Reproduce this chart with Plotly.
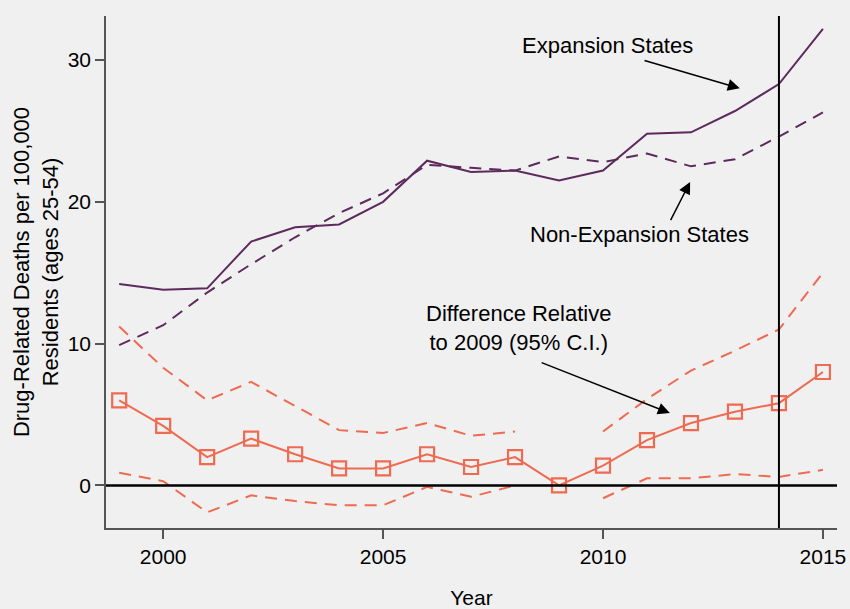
import plotly.graph_objects as go

years = list(range(1999, 2016))
expansion = [14.2, 13.8, 13.9, 17.2, 18.2, 18.4, 20.0, 22.9, 22.1, 22.2, 21.5, 22.2, 24.8, 24.9, 26.4, 28.3, 32.2]
non_expansion = [9.9, 11.3, 13.6, 15.6, 17.5, 19.2, 20.6, 22.6, 22.4, 22.2, 23.2, 22.8, 23.4, 22.5, 23.0, 24.6, 26.3]
difference = [6.0, 4.2, 2.0, 3.3, 2.2, 1.2, 1.2, 2.2, 1.3, 2.0, 0.0, 1.4, 3.2, 4.4, 5.2, 5.8, 8.0]
ci_upper = [11.2, 8.3, 6.0, 7.3, 5.6, 3.9, 3.7, 4.4, 3.5, 3.8, None, 3.8, 6.1, 8.1, 9.5, 11.0, 15.0]
ci_lower = [0.9, 0.3, -1.9, -0.7, -1.1, -1.4, -1.4, -0.1, -0.8, 0.0, None, -0.9, 0.5, 0.5, 0.8, 0.6, 1.1]
x_ticks = [2000, 2005, 2010, 2015]
y_ticks = [0, 10, 20, 30]
policy_year = 2014

PURPLE = "#5c2a5c"
ORANGE = "#ee6a50"
BG = "#f0f0f0"
FONT = "Liberation Sans, Arial, Helvetica, sans-serif"

fig = go.Figure()
fig.add_trace(go.Scatter(x=years, y=ci_upper, mode="lines", connectgaps=False,
                         line=dict(color=ORANGE, width=2, dash="12px,8px")))
fig.add_trace(go.Scatter(x=years, y=ci_lower, mode="lines", connectgaps=False,
                         line=dict(color=ORANGE, width=2, dash="12px,8px")))
fig.add_trace(go.Scatter(x=years, y=non_expansion, mode="lines",
                         line=dict(color=PURPLE, width=2, dash="12px,8px")))
fig.add_trace(go.Scatter(x=years, y=expansion, mode="lines",
                         line=dict(color=PURPLE, width=2)))
fig.add_trace(go.Scatter(x=years, y=difference, mode="lines+markers",
                         line=dict(color=ORANGE, width=2),
                         marker=dict(symbol="square-open", size=14, color=ORANGE,
                                     line=dict(width=2.2, color=ORANGE))))

fig.add_shape(type="line", xref="paper", yref="y", x0=0, x1=1, y0=0, y1=0,
              line=dict(color="black", width=2.5))
fig.add_shape(type="line", xref="x", yref="paper", x0=policy_year, x1=policy_year, y0=0, y1=1,
              line=dict(color="black", width=2))

ann_font = dict(family=FONT, size=22, color="black")
fig.add_annotation(x=2010.11, y=31.0, text="Expansion States", showarrow=False, font=ann_font)
fig.add_annotation(x=2010.84, y=17.7, text="Non-Expansion States", showarrow=False, font=ann_font)
fig.add_annotation(x=2008.07, y=11.1, text="Difference Relative<br>to 2009 (95% C.I.)",
                   showarrow=False, font=ann_font)
for (tx, ty, hx, hy) in [(2010.91, 30.0, 2013.11, 28.0),
                         (2011.52, 18.6, 2011.98, 21.4),
                         (2008.57, 8.7, 2011.52, 5.1)]:
    fig.add_annotation(x=hx, y=hy, ax=tx, ay=ty, axref="x", ayref="y", text="",
                       showarrow=True, arrowhead=2, arrowsize=1.6, arrowwidth=1.5,
                       arrowcolor="black")

fig.update_layout(
    width=850, height=609,
    paper_bgcolor=BG, plot_bgcolor=BG,
    margin=dict(l=106, r=13, t=16, b=81),
    showlegend=False,
    font=dict(family=FONT, size=21, color="black"),
    xaxis=dict(range=[1998.7, 2015.32], tickvals=x_ticks, showgrid=False, zeroline=False,
               automargin=False,
               showline=True, linecolor="#555555", linewidth=1.5,
               ticks="outside", ticklen=9, tickcolor="#555555", tickwidth=1.5,
               title=dict(text="Year", standoff=36, font=dict(size=21))),
    yaxis=dict(range=[-3.0, 33.1], tickvals=y_ticks, showgrid=False, zeroline=False,
               automargin=False,
               showline=True, linecolor="#555555", linewidth=1.5,
               ticks="outside", ticklen=9, tickcolor="#555555", tickwidth=1.5,
               title=dict(text="Drug-Related Deaths per 100,000<br>Residents (ages 25-54)",
                          standoff=3, font=dict(size=22))),
)

fig.write_html("out.html")
